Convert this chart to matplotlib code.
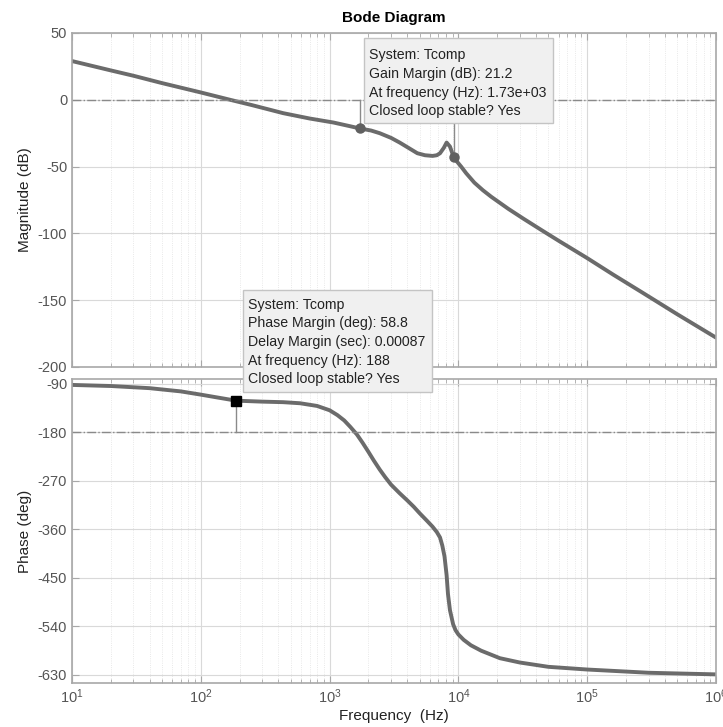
import numpy as np
import matplotlib
matplotlib.use('Agg')
import matplotlib.pyplot as plt
from matplotlib.patches import Rectangle

# values (frequency in Hz)
mag_freq = [10, 20, 30, 50, 100, 169, 250, 436, 700, 1070, 1400, 1730, 2100, 2450,
            3000, 3500, 4100, 4800, 5500, 6300, 6800, 7200, 7700, 8100, 8600, 9200,
            9700, 10500, 11500, 13300, 15500, 18000, 24400, 32000, 43800, 60000,
            100000, 160000, 260000, 500000, 1000000]
mag_db = [29, 22, 18, 12.5, 5.5, 0, -4, -10, -14, -17, -19.5, -21.5, -23, -25,
          -28.5, -32, -36, -40, -41.5, -42, -41.5, -40, -36, -32, -35, -43,
          -46, -50, -55, -62, -67.7, -72.6, -81.6, -89, -97.3, -105.5,
          -118.5, -131, -143.5, -160.5, -178]

ph_freq = [10, 20, 40, 70, 100, 140, 188, 300, 436, 590, 800, 1000, 1150, 1300, 1450,
           1630, 1800, 2000, 2200, 2450, 2700, 3000, 3500, 4000, 4500, 5000, 5700,
           6300, 6800, 7200, 7500, 7800, 8100, 8300, 8600, 9100, 9500, 10000, 11000,
           12500, 15000, 21000, 30000, 50000, 100000, 300000, 1000000]
ph_deg = [-92, -94, -98, -104, -110, -116, -121.2, -123, -124, -126, -131, -139, -148,
          -158, -170, -184, -199, -216, -232, -249, -263, -277, -293, -306, -318, -330,
          -344, -355, -365, -375, -390, -410, -445, -480, -510, -536, -547, -555, -565,
          -575, -585, -599, -607, -615, -620, -626, -629]

gm_freq = [1730, 9200]
gm_db = [-21.2, -43]
pm_freq = 188
pm_deg = -121.2

gm_lines = ["System: Tcomp", "Gain Margin (dB): 21.2",
            "At frequency (Hz): 1.73e+03", "Closed loop stable? Yes"]
pm_lines = ["System: Tcomp", "Phase Margin (deg): 58.8", "Delay Margin (sec): 0.00087",
            "At frequency (Hz): 188", "Closed loop stable? Yes"]

plt.rcParams['font.family'] = ['Liberation Sans', 'DejaVu Sans']
plt.rcParams['axes.unicode_minus'] = False

line_col = '#6b6b6b'
tick_col = '#555555'
edge_col = '#a8a8a8'

W, H = 723, 727
fig = plt.figure(figsize=(W / 100, H / 100), dpi=100)
ax1 = fig.add_axes([72 / W, (H - 367) / H, 644 / W, 334 / H])
ax2 = fig.add_axes([72 / W, (H - 683) / H, 644 / W, 304 / H])


def style(ax):
    ax.set_xscale('log')
    ax.set_xlim(10, 1e6)
    ax.grid(True, which='major', color='#d9d9d9', lw=0.8)
    ax.grid(True, which='minor', color='#e2e2e2', lw=0.6, ls=':')
    for s in ax.spines.values():
        s.set_color(edge_col)
        s.set_linewidth(1.2)
    ax.tick_params(which='both', direction='in', top=True, right=True,
                   colors=edge_col, labelcolor=tick_col, labelsize=10.5)
    ax.tick_params(which='major', length=5)
    ax.tick_params(which='minor', length=3)
    ax.set_axisbelow(True)


def datatip(x0, y0, x1, y1, lines, ys):
    # box drawn in pixel coordinates of the figure
    fig.add_artist(Rectangle((x0 / W, 1 - y1 / H), (x1 - x0) / W, (y1 - y0) / H,
                             transform=fig.transFigure, fc='#f0f0f0', ec='#c4c4c4',
                             lw=1, zorder=5))
    for s, y in zip(lines, ys):
        fig.text((x0 + 5) / W, 1 - y / H, s, fontsize=10.2, color='#222222',
                 va='center', ha='left', zorder=6)


style(ax1)
style(ax2)

ax1.plot(mag_freq, mag_db, color=line_col, lw=2.8, solid_capstyle='round')
ax1.axhline(0, color='#8a8a8a', lw=1, ls='-.')
for f, m in zip(gm_freq, gm_db):
    ax1.plot([f, f], [0, m], color='#8a8a8a', lw=1)
ax1.plot(gm_freq, gm_db, 'o', color='#606060', ms=6.5)
ax1.set_ylim(-200, 50)
ax1.set_yticks([-200, -150, -100, -50, 0, 50])
ax1.set_xticklabels([])
ax1.set_ylabel('Magnitude (dB)', fontsize=11, color='#222222')
ax1.set_title('Bode Diagram', fontsize=11, fontweight='bold', pad=8)

ax2.plot(ph_freq, ph_deg, color=line_col, lw=2.8, solid_capstyle='round')
ax2.axhline(-180, color='#8a8a8a', lw=1, ls='-.')
ax2.plot([pm_freq, pm_freq], [-180, pm_deg], color='#8a8a8a', lw=1)
ax2.plot([pm_freq], [pm_deg], 's', color='black', ms=7)
ax2.set_ylim(-645, -81)
ax2.set_yticks([-630, -540, -450, -360, -270, -180, -90])
ax2.set_ylabel('Phase (deg)', fontsize=11, color='#222222')
ax2.set_xlabel('Frequency  (Hz)', fontsize=11, color='#222222', labelpad=2)

datatip(364, 38, 553, 123, gm_lines, [55, 74, 93, 111])
datatip(243, 290, 432, 392, pm_lines, [305, 323, 342, 361, 379])

fig.savefig('out.png', dpi=100)
